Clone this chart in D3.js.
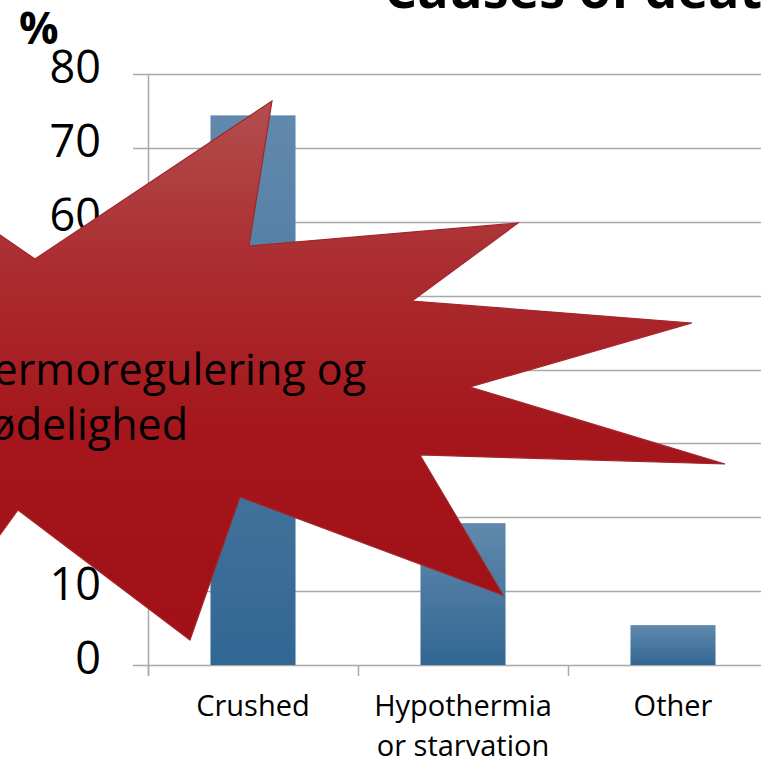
<!DOCTYPE html>
<html><head><meta charset="utf-8">
<script src="https://cdn.jsdelivr.net/npm/d3@7"></script>
<style>html,body{margin:0;padding:0;background:#fff;overflow:hidden}</style>
</head><body>
<script>
const categories = [["Crushed"], ["Hypothermia", "or starvation"], ["Other"]];
const values = [74.4, 19.2, 5.4];
const yTicks = [0, 10, 20, 30, 40, 50, 60, 70, 80];
const title = "Causes of death";
const yUnit = "%";
const burstText = ["Termoregulering og", "dødelighed"];
// decorative explosion shape (pixel outline, annotation)
const burst = [[272,101],[249,246],[518,223],[412,301],[692,323],[470,387],[725,464],[420,455],[503,595],[240,497],[190,640],[18,510],[-40,590],[-150,400],[-80,180],[35,259]];

const W = 761, H = 760;
const svg = d3.select("body").append("svg").attr("width", W).attr("height", H);
const defs = svg.append("defs");
const bg = defs.append("linearGradient").attr("id","barGrad").attr("x1",0).attr("y1",0).attr("x2",0).attr("y2",1);
bg.append("stop").attr("offset",0).attr("stop-color","#6189ad");
bg.append("stop").attr("offset",1).attr("stop-color","#326793");
const rg = defs.append("linearGradient").attr("id","redGrad").attr("gradientUnits","userSpaceOnUse").attr("x1",0).attr("y1",101).attr("x2",0).attr("y2",640);
rg.append("stop").attr("offset",0).attr("stop-color","#b34e4e");
rg.append("stop").attr("offset",0.3).attr("stop-color","#ab2d31");
rg.append("stop").attr("offset",0.6).attr("stop-color","#a5171c");
rg.append("stop").attr("offset",1).attr("stop-color","#a01016");

const keys = categories.map(c => c.join(" "));
const x = d3.scaleBand().domain(keys).range([148, 778]).paddingInner(0.595).paddingOuter(0.2975);
const y = d3.scaleLinear().domain([0, 80]).range([665, 74]);
const FONT = "'Open Sans', 'Noto Sans', sans-serif";

// gridlines + y ticks
svg.append("g").selectAll("line").data(yTicks).join("line")
  .attr("x1", 133).attr("x2", W + 20)
  .attr("y1", d => Math.round(y(d)) + 0.5).attr("y2", d => Math.round(y(d)) + 0.5)
  .attr("stroke", "#a9a9a9").attr("stroke-width", 1.5);
// y axis line
svg.append("line").attr("x1", 148.5).attr("x2", 148.5).attr("y1", y(80)).attr("y2", y(0) + 11)
  .attr("stroke", "#a9a9a9").attr("stroke-width", 1.5);
// x ticks at category boundaries
const bounds = [148, 148 + x.step(), 148 + 2 * x.step(), 148 + 3 * x.step()];
svg.append("g").selectAll("line").data(bounds).join("line")
  .attr("x1", d => d + 0.5).attr("x2", d => d + 0.5).attr("y1", y(0)).attr("y2", y(0) + 11)
  .attr("stroke", "#a9a9a9").attr("stroke-width", 1.5);

// y labels
svg.append("g").selectAll("text").data(yTicks).join("text")
  .attr("x", 101).attr("y", d => y(d) - 7).attr("dy", "0.35em")
  .attr("text-anchor", "end").attr("font-family", FONT).attr("font-size", 45)
  .attr("fill", "#000").text(d => d);

// bars
svg.append("g").selectAll("rect").data(values).join("rect")
  .attr("x", (d, i) => x(keys[i])).attr("width", x.bandwidth())
  .attr("y", d => y(d)).attr("height", d => y(0) - y(d))
  .attr("fill", "url(#barGrad)");

// x labels
const xl = svg.append("g").selectAll("text").data(categories).join("text")
  .attr("text-anchor", "middle").attr("font-family", FONT).attr("font-size", 29).attr("fill", "#000");
xl.each(function(c, i) {
  const t = d3.select(this);
  c.forEach((line, j) => {
    t.append("tspan").attr("x", x(keys[i]) + x.bandwidth() / 2).attr("y", 716 + j * 40).text(line);
  });
});

// unit + title
svg.append("text").attr("x", 19).attr("y", 44).attr("font-family", FONT).attr("font-weight", "bold")
  .attr("font-size", 44).text(yUnit);
svg.append("text").attr("x", 384).attr("y", 8).attr("font-family", FONT).attr("font-weight", "bold")
  .attr("font-size", 52).text(title);

// explosion shape
svg.append("path").attr("d", d3.line()(burst) + "Z")
  .attr("fill", "url(#redGrad)").attr("stroke", "#a3262c").attr("stroke-width", 1.2);
svg.append("text").attr("x", 366).attr("y", 385).attr("text-anchor", "end")
  .attr("font-family", FONT).attr("font-size", 43).attr("fill", "#000").text(burstText[0]);
svg.append("text").attr("x", 188).attr("y", 440).attr("text-anchor", "end")
  .attr("font-family", FONT).attr("font-size", 43).attr("fill", "#000").text(burstText[1]);
</script>
</body></html>
